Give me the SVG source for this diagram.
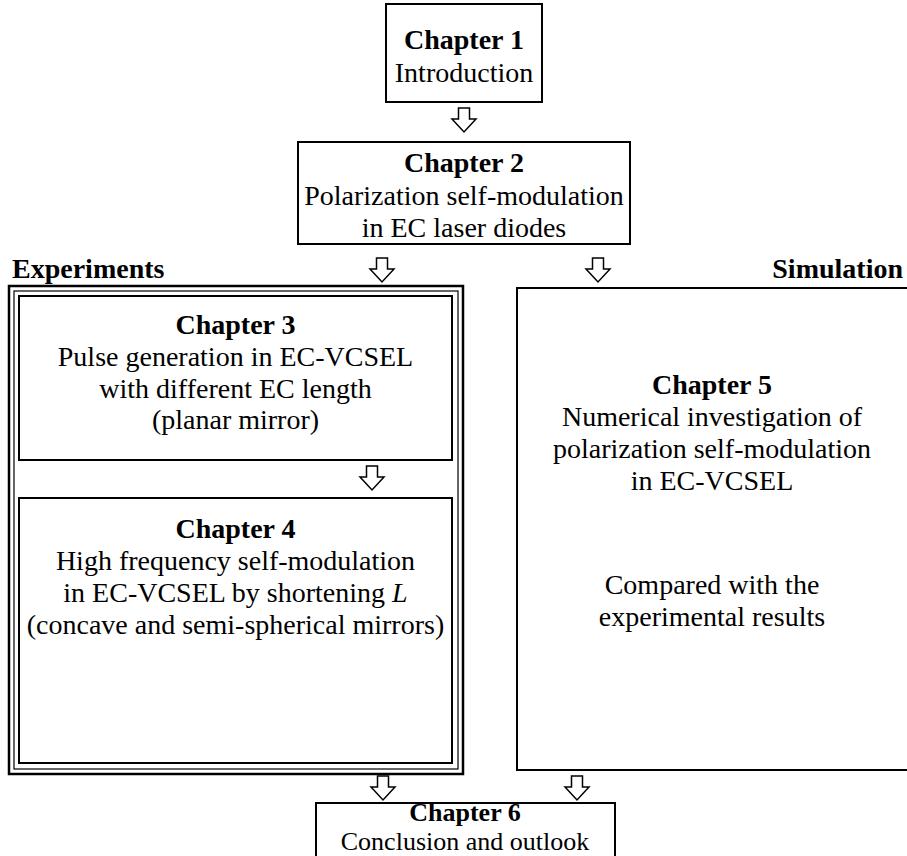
<svg xmlns="http://www.w3.org/2000/svg" width="907" height="856" viewBox="0 0 907 856">
<defs>
<style>
.box{fill:#fff;stroke:#000;stroke-width:2}
.arr{fill:#fff;stroke:#000;stroke-width:1.5;stroke-linejoin:miter}
text{font-family:"Liberation Serif","Times New Roman",serif;font-size:28px;fill:#000;text-anchor:middle}
.b{font-weight:bold}
.s{font-size:26px}
</style>
<path id="ar" d="M-5.5,0 H5.5 V11 H12 L0,24 L-12,11 H-5.5 Z"/>
</defs>
<rect width="907" height="856" fill="#fff"/>
<g id="label-experiments"><text class="b" x="12" y="278" style="text-anchor:start">Experiments</text></g>
<g id="label-simulation"><text class="b" x="903" y="278" style="text-anchor:end">Simulation</text></g>
<g id="experiments-frame">
<rect x="9" y="286" width="454" height="488" fill="none" stroke="#000" stroke-width="2.5"/>
<rect x="14" y="291" width="444" height="478" fill="none" stroke="#000" stroke-width="1.2"/>
</g>
<g id="ch1"><rect class="box" x="386" y="4" width="156" height="98"/>
<text class="b" x="464" y="49">Chapter 1</text><text x="464" y="82">Introduction</text></g>
<g id="ch2"><rect class="box" x="298" y="142" width="332" height="102"/>
<text class="b" x="464" y="172">Chapter 2</text><text x="464" y="205">Polarization self-modulation</text><text x="464" y="237">in EC laser diodes</text></g>
<g id="ch3"><rect class="box" x="19" y="296" width="433" height="164"/>
<text class="b" x="235.5" y="334">Chapter 3</text><text x="235.5" y="366">Pulse generation in EC-VCSEL</text><text x="235.5" y="398">with different EC length</text><text x="235.5" y="429">(planar mirror)</text></g>
<g id="ch4"><rect class="box" x="19" y="498" width="433" height="265"/>
<text class="b" x="235.5" y="538">Chapter 4</text><text x="235.5" y="570">High frequency self-modulation</text><text x="235.5" y="602">in EC-VCSEL by shortening <tspan font-style="italic">L</tspan></text><text x="235.5" y="634">(concave and semi-spherical mirrors)</text></g>
<g id="ch5"><rect class="box" x="517" y="288" width="400" height="482"/>
<text class="b" x="712" y="394">Chapter 5</text><text x="712" y="426">Numerical investigation of</text><text x="712" y="458">polarization self-modulation</text><text x="712" y="490">in EC-VCSEL</text><text x="712" y="594">Compared with the</text><text x="712" y="626">experimental results</text></g>
<g id="ch6"><rect class="box" x="316" y="803" width="299" height="65"/>
<text class="b s" x="465" y="821">Chapter 6</text><text class="s" x="465" y="850">Conclusion and outlook</text></g>
<g id="connectors">
<use href="#ar" class="arr" x="464" y="108"/>
<use href="#ar" class="arr" x="382" y="258"/>
<use href="#ar" class="arr" x="598" y="258"/>
<use href="#ar" class="arr" x="372" y="466"/>
<use href="#ar" class="arr" x="383" y="776"/>
<use href="#ar" class="arr" x="577" y="776"/>
</g>
</svg>
